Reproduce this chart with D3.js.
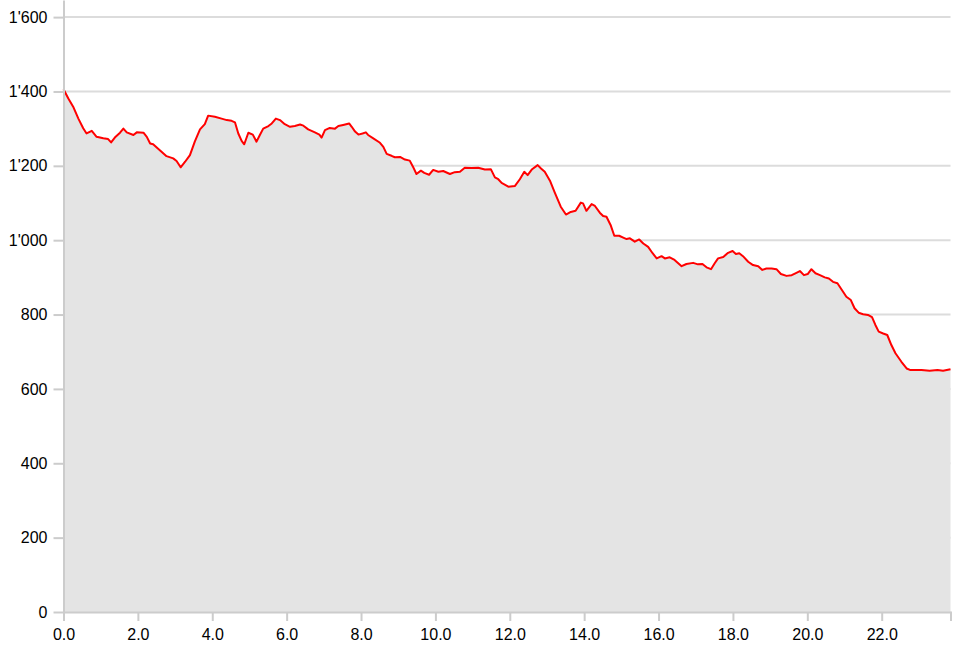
<!DOCTYPE html>
<html>
<head>
<meta charset="utf-8">
<script src="https://cdn.jsdelivr.net/npm/d3@7"></script>
<style>
  html, body { margin: 0; padding: 0; background: #fff; }
  svg { display: block; font-family: Arial, "Liberation Sans", sans-serif; }
  .axis text { font-size: 16px; fill: #000; }
  .axis path, .axis line { stroke: #cccccc; stroke-width: 2; }
  .grid line { stroke: #dcdcdc; stroke-width: 2; }
</style>
</head>
<body>
<div id="profile"></div>
<script>
// distance (km) and elevation (m)
var dist = [0.00, 0.13, 0.26, 0.40, 0.53, 0.62, 0.76, 0.89, 1.07, 1.20, 1.28, 1.38, 1.52, 1.61, 1.70, 1.88, 1.97,
    2.15, 2.24, 2.33, 2.41, 2.59, 2.77, 2.95, 3.04, 3.15, 3.27, 3.40, 3.53, 3.67, 3.80, 3.89, 4.07, 4.25, 4.39,
    4.52, 4.61, 4.70, 4.79, 4.86, 4.97, 5.09, 5.19, 5.28, 5.37, 5.51, 5.60, 5.71, 5.82, 5.95, 6.09, 6.22, 6.36,
    6.45, 6.58, 6.76, 6.88, 6.94, 7.03, 7.16, 7.30, 7.39, 7.52, 7.68, 7.75, 7.84, 7.93, 8.04, 8.13, 8.19, 8.33,
    8.51, 8.60, 8.69, 8.82, 8.91, 9.05, 9.18, 9.31, 9.40, 9.49, 9.61, 9.70, 9.83, 9.94, 10.08, 10.21, 10.39,
    10.52, 10.66, 10.79, 10.97, 11.15, 11.33, 11.49, 11.60, 11.69, 11.78, 11.96, 12.14, 12.27, 12.39, 12.48,
    12.59, 12.75, 12.84, 12.94, 13.08, 13.21, 13.37, 13.51, 13.64, 13.77, 13.91, 13.97, 14.06, 14.20, 14.29,
    14.42, 14.51, 14.60, 14.71, 14.81, 14.94, 15.05, 15.14, 15.23, 15.36, 15.48, 15.59, 15.72, 15.84, 15.95,
    16.08, 16.17, 16.30, 16.43, 16.62, 16.75, 16.93, 17.06, 17.18, 17.29, 17.41, 17.51, 17.60, 17.74, 17.87,
    17.99, 18.08, 18.17, 18.27, 18.41, 18.54, 18.68, 18.79, 18.90, 19.04, 19.17, 19.29, 19.44, 19.58, 19.68,
    19.80, 19.91, 20.01, 20.11, 20.22, 20.34, 20.47, 20.58, 20.69, 20.81, 20.93, 21.05, 21.17, 21.27, 21.38,
    21.50, 21.63, 21.74, 21.83, 21.92, 22.04, 22.15, 22.26, 22.37, 22.53, 22.67, 22.76, 23.07, 23.29, 23.50,
    23.65, 23.85]
var elev = [1406, 1381, 1359, 1327, 1301, 1287, 1294, 1278, 1274, 1272, 1263, 1276, 1289, 1300, 1290, 1283, 1290,
    1289, 1278, 1260, 1258, 1242, 1226, 1220, 1213, 1196, 1211, 1229, 1265, 1298, 1312, 1335, 1332, 1327, 1323,
    1321, 1317, 1287, 1267, 1258, 1289, 1284, 1265, 1283, 1300, 1307, 1314, 1327, 1323, 1312, 1305, 1307, 1311,
    1308, 1298, 1290, 1284, 1276, 1296, 1302, 1300, 1307, 1310, 1314, 1305, 1292, 1284, 1287, 1290, 1283, 1274,
    1262, 1251, 1232, 1227, 1223, 1224, 1217, 1214, 1197, 1178, 1187, 1181, 1176, 1189, 1184, 1186, 1178,
    1183, 1184, 1195, 1194, 1195, 1190, 1191, 1169, 1164, 1154, 1144, 1146, 1164, 1184, 1175,
    1190, 1202, 1193, 1184, 1160, 1128, 1090, 1069, 1076, 1079, 1101, 1099, 1079, 1097, 1092,
    1074, 1065, 1063, 1041, 1012, 1012, 1007, 1003, 1005, 996, 1002, 991, 982, 965, 951,
    957, 951, 954, 947, 930, 936, 939, 935, 936, 927, 922, 938, 951, 955, 966,
    971, 963, 965, 957, 942, 933, 930, 920, 924, 924, 922, 909, 904, 906, 911,
    917, 906, 909, 922, 911, 906, 900, 897, 888, 884, 866, 848, 839, 817, 805,
    801, 799, 793, 772, 754, 749, 745, 718, 696, 673, 655, 651, 651, 649, 651,
    649, 653]
var xTicks = [0, 2, 4, 6, 8, 10, 12, 14, 16, 18, 20, 22]
var yTicks = [0, 200, 400, 600, 800, 1000, 1200, 1400, 1600]
var xMax = 23.85, yMax = 1646

const margin = {top: 0, right: 8, bottom: 36, left: 63},
    w = 958 - margin.left - margin.right,
    h = 648 - margin.top - margin.bottom;

var data = dist.map((d, i) => ({km: d, ele: elev[i]}))

var svg = d3.select("#profile")
    .append("svg")
    .attr("width", 958)
    .attr("height", 648)
    .append("g")
    .attr("transform", `translate(${margin.left + 0.5}, ${margin.top})`);

var x = d3.scaleLinear().domain([0, xMax]).range([0, w])
var y = d3.scaleLinear().domain([0, yMax]).range([h, 0])

var fmt = d3.formatLocale({decimal: ".", thousands: "'", grouping: [3], currency: ["", ""]}).format(",")

// horizontal grid
svg.append("g")
    .attr("class", "grid")
    .selectAll("line")
    .data(yTicks)
    .join("line")
    .attr("x1", 0)
    .attr("x2", w)
    .attr("y1", d => y(d))
    .attr("y2", d => y(d))

// area + profile line
svg.append("path")
    .datum(data)
    .attr("fill", "#e4e4e4")
    .attr("d", d3.area().x(d => x(d.km)).y0(y(0)).y1(d => y(d.ele)))

svg.append("path")
    .datum(data)
    .attr("fill", "none")
    .attr("stroke", "#ff0000")
    .attr("stroke-width", 2)
    .attr("stroke-linejoin", "round")
    .attr("d", d3.line().x(d => x(d.km)).y(d => y(d.ele)))

svg.append("g")
    .attr("class", "axis")
    .attr("transform", `translate(0, ${h})`)
    .call(d3.axisBottom(x).tickValues(xTicks).tickFormat(d3.format(".1f")).tickSize(9).tickPadding(8))

svg.append("g")
    .attr("class", "axis")
    .call(d3.axisLeft(y).tickValues(yTicks).tickFormat(fmt).tickSize(10).tickPadding(6).tickSizeOuter(0))
</script>
</body>
</html>
